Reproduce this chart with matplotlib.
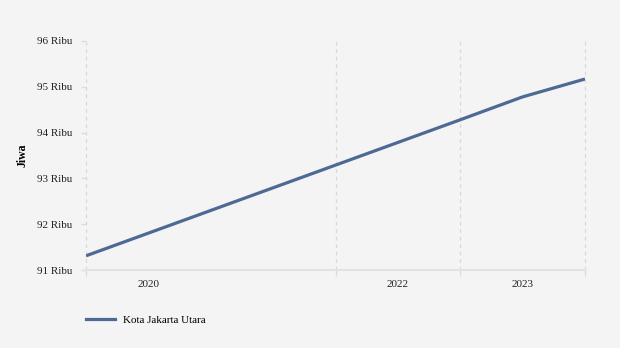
import numpy as np
import matplotlib.pyplot as plt
from matplotlib.lines import Line2D

# data penduduk (ribu jiwa)
tahun = [2020.0, 2021.0, 2022.0, 2023.0, 2023.5, 2024.0]
jiwa = [91.31, 92.30, 93.29, 94.28, 94.78, 95.17]
label_tahun = ["2020", "2022", "2023"]
posisi_label = [2020.5, 2022.5, 2023.5]
grid_x = [2020, 2022, 2023, 2024]
yticks = [91, 92, 93, 94, 95, 96]

plt.rcParams['font.family'] = ['Liberation Serif', 'DejaVu Serif']
bg = "#f4f4f4"
warna = "#4d6a92"

fig = plt.figure(figsize=(6.2, 3.48), dpi=100, facecolor=bg)
ax = fig.add_axes([86/620, 1-270/348, (585-86)/620, (270-41)/348], facecolor=bg)

ax.plot(tahun, jiwa, color=warna, linewidth=2.3, solid_capstyle='butt')

ax.set_xlim(2020, 2024)
ax.set_ylim(91, 96)
# garis grid vertikal putus-putus
for gx in grid_x:
    ax.axvline(gx, color="#d8d8d8", linewidth=0.9, linestyle=(0, (3, 3)),
               zorder=0, clip_on=False)

ax.set_yticks(yticks)
ax.set_yticklabels([f"{v} Ribu" for v in yticks], fontsize=8, color="#222222")
ax.set_xticks(grid_x)
ax.set_xticklabels([])
ax.set_xticks(posisi_label, minor=True)
ax.set_xticklabels(label_tahun, minor=True, fontsize=8, color="#222222")
ax.tick_params(axis='x', which='major', length=4, color="#dcdcdc", width=0.9)
ax.tick_params(axis='x', which='minor', length=0, pad=7)
ax.tick_params(axis='y', length=3.6, color="#dcdcdc", width=0.9, pad=6.5)

for s in ['top', 'right', 'left']:
    ax.spines[s].set_visible(False)
ax.spines['bottom'].set_color("#e2e2e2")
ax.spines['bottom'].set_linewidth(1.5)

ax.set_ylabel("Jiwa", fontsize=8.5, fontweight='bold', labelpad=6)

handle = Line2D([], [], color=warna, linewidth=2.3)
fig.legend([handle], ["Kota Jakarta Utara"], loc='center left',
           bbox_to_anchor=(76/620, 1-320/348), frameon=False, fontsize=8,
           handlelength=2.6, handletextpad=0.75)

fig.savefig("out.png", dpi=100, facecolor=bg)
